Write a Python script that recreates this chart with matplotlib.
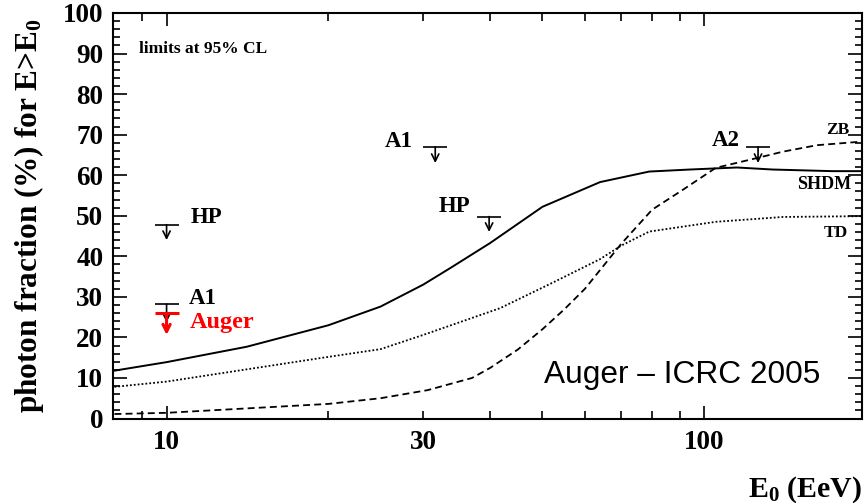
import matplotlib
matplotlib.use("Agg")
import matplotlib.pyplot as plt
from matplotlib.ticker import FixedLocator, FixedFormatter

plt.rcParams["font.family"] = ["Liberation Serif", "DejaVu Serif"]
plt.rcParams["font.weight"] = "bold"
plt.rcParams["mathtext.fontset"] = "custom"
plt.rcParams["mathtext.rm"] = "Liberation Serif:bold"
plt.rcParams["mathtext.it"] = "Liberation Serif:bold"
plt.rcParams["mathtext.bf"] = "Liberation Serif:bold"
plt.rcParams["lines.scale_dashes"] = False

# Model predictions: photon fraction (%) above E0 (EeV)
shdm_e = [8, 10, 14.1, 20, 25, 30, 33.7, 40, 50, 64, 79, 94, 115, 134, 173, 197]
shdm_f = [11.8, 13.9, 17.7, 23.0, 27.6, 33.0, 37.1, 43.3, 52.2, 58.3, 60.9, 61.4, 61.9, 61.4, 61.0, 61.0]

td_e = [8, 10, 20, 25, 30, 41.7, 51.7, 64, 70, 79, 105, 140, 197]
td_f = [7.8, 9.1, 15.2, 17.1, 20.6, 27.2, 33.2, 39.3, 42.6, 46.1, 48.5, 49.7, 49.9]

zb_e = [8, 10, 20, 25, 30.6, 37, 40, 45, 50, 55, 60, 70, 80, 91, 105, 125, 140, 162, 197]
zb_f = [1.1, 1.4, 3.6, 5.0, 7.0, 10.0, 12.5, 17.0, 22.0, 27.0, 32.0, 43.0, 51.5, 56.3, 61.8, 64.2, 65.8, 67.4, 68.3]

# Upper limits (95% CL)
lim_name = ["HP", "A1", "Auger", "A1", "HP", "A2"]
lim_e = [10, 10, 10, 31.6, 39.8, 125.9]
lim_f = [47.8, 28.2, 25.9, 67.0, 49.8, 67.0]
lim_color = ["black", "black", "red", "black", "black", "black"]

x_major = [10, 100]
x_minor = [9, 20, 30, 40, 50, 60, 70, 80, 90]
x_minor_labels = ["", "", "30", "", "", "", "", "", ""]

fig = plt.figure(figsize=(8.66, 5.03), dpi=100)
ax = fig.add_axes([113 / 866, (503 - 418.5) / 503, (862 - 113) / 866, (418.5 - 13) / 503])

ax.plot(shdm_e, shdm_f, color="black", lw=1.4, ls="-")
ax.plot(td_e, td_f, color="black", lw=1.3, ls=(0, (1.3, 1.5)))
ax.plot(zb_e, zb_f, color="black", lw=1.3, ls=(0, (5, 3)))

# limit markers: horizontal bar with a downward open arrow
half = 1.053
label_offsets = {0: (17, 5, "left"), 1: (16, 4.3, "left"), 2: (16.6, -6.3, "left"),
                 3: (-16.6, 3.6, "right"), 4: (-13.7, 7, "right"), 5: (-13, 4.8, "right")}
arrow_len = [3.8, 4.5, 5.3, 4.0, 3.8, 4.0]
for i, (name, e, f, c) in enumerate(zip(lim_name, lim_e, lim_f, lim_color)):
    lw = 2.2 if c == "red" else 1.2
    ax.plot([e / half, e * half], [f, f], color=c, lw=lw, solid_capstyle="butt", zorder=4 + (c == "red"))
    ax.annotate("", xy=(e, f - arrow_len[i]), xytext=(e, f),
                arrowprops=dict(arrowstyle="->", color=c, lw=lw, mutation_scale=13,
                                shrinkA=0, shrinkB=0),
                zorder=4 + (c == "red"))
    dx, dy, ha = label_offsets[i]
    ax.annotate(name, xy=(e, f), xytext=(dx, dy), textcoords="offset points",
                ha=ha, va="center", fontsize=17.5 if c == "red" else 16.5,
                color=c, fontweight="bold", zorder=6)

# curve labels
ax.text(186, 71.1, "ZB", ha="right", va="center", fontsize=12.5, fontweight="bold")
ax.text(188, 57.6, "SHDM", ha="right", va="center", fontsize=13, fontweight="bold")
ax.text(185, 45.7, "TD", ha="right", va="center", fontsize=12.5, fontweight="bold")

ax.text(8.89, 91.1, "limits at 95% CL", ha="left", va="center", fontsize=12.5, fontweight="bold")
ax.text(50.4, 10.7, "Auger \u2013 ICRC 2005", ha="left", va="center", fontsize=22.8,
        family=["Liberation Sans", "DejaVu Sans"], fontweight="normal")

ax.set_xscale("log")
ax.set_xlim(7.95, 196.5)
ax.set_ylim(0, 100)

ax.xaxis.set_major_locator(FixedLocator(x_major))
ax.xaxis.set_major_formatter(FixedFormatter([str(v) for v in x_major]))
ax.xaxis.set_minor_locator(FixedLocator(x_minor))
ax.xaxis.set_minor_formatter(FixedFormatter(x_minor_labels))
ax.set_yticks(range(0, 101, 10))
ax.set_yticks(range(0, 101, 2), minor=True)

ax.tick_params(which="both", direction="in", top=True, right=True, width=1.2)
ax.tick_params(axis="x", which="major", length=9.4, labelsize=19.5, pad=8)
ax.tick_params(axis="x", which="minor", length=6, labelsize=19.5, pad=8)
ax.tick_params(axis="y", which="major", length=10, labelsize=19.5, pad=7)
ax.tick_params(axis="y", which="minor", length=5)
for lbl in ax.get_xticklabels(which="both") + ax.get_yticklabels():
    lbl.set_fontweight("bold")

for s in ax.spines.values():
    s.set_linewidth(1.5)

ax.set_ylabel("photon fraction (%) for E>E$_0$", fontsize=22.5, fontweight="bold", labelpad=12)
ax.set_xlabel("E$_0$ (EeV)", fontsize=21.5, fontweight="bold", loc="right", labelpad=14)

fig.savefig("out.png", dpi=100)
